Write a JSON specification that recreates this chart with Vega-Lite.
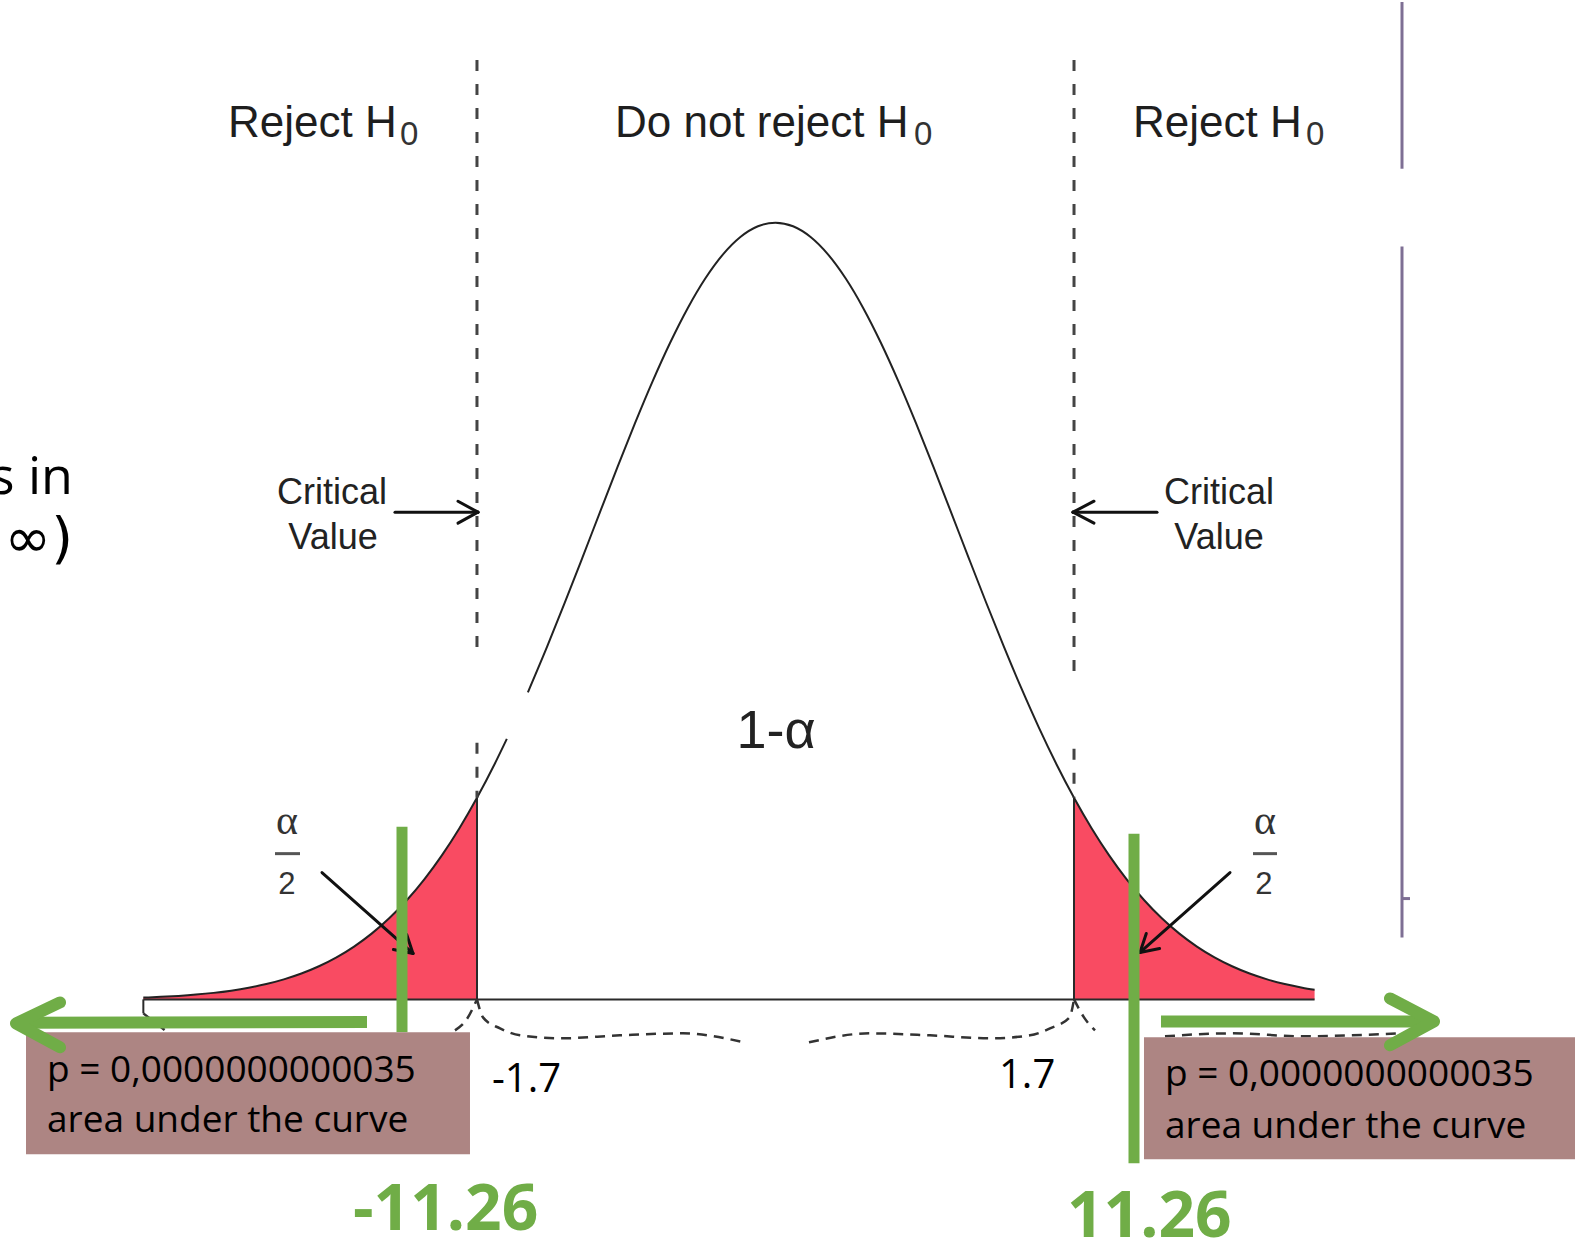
{
  "$schema": "https://vega.github.io/schema/vega-lite/v6.json",
  "width": 1575,
  "height": 1253,
  "padding": 0,
  "autosize": {"type": "fit", "contains": "padding"},
  "background": "white",
  "config": {"view": {"stroke": null}},
  "datasets": {
    "curve": [
      {"x": -3.6, "y": 0.00236, "s": "a"}, {"x": -3.5, "y": 0.00329, "s": "a"}, {"x": -3.4, "y": 0.00454, "s": "a"},
      {"x": -3.3, "y": 0.00621, "s": "a"}, {"x": -3.2, "y": 0.00841, "s": "a"}, {"x": -3.1, "y": 0.01128, "s": "a"},
      {"x": -3.0, "y": 0.01499, "s": "a"}, {"x": -2.9, "y": 0.01974, "s": "a"}, {"x": -2.8, "y": 0.02577, "s": "a"},
      {"x": -2.7, "y": 0.0333, "s": "a"}, {"x": -2.6, "y": 0.04265, "s": "a"}, {"x": -2.5, "y": 0.0541, "s": "a"},
      {"x": -2.4, "y": 0.06801, "s": "a"}, {"x": -2.3, "y": 0.08468, "s": "a"}, {"x": -2.2, "y": 0.10447, "s": "a"},
      {"x": -2.1, "y": 0.12769, "s": "a"}, {"x": -2.0, "y": 0.15462, "s": "a"}, {"x": -1.9, "y": 0.18549, "s": "a"},
      {"x": -1.8, "y": 0.22044, "s": "a"}, {"x": -1.7, "y": 0.25957, "s": "a"}, {"x": -1.6, "y": 0.30278, "s": "a"},
      {"x": -1.53, "y": 0.3354, "s": "a"},
      {"x": -1.41, "y": 0.3954, "s": "b"}, {"x": -1.3, "y": 0.45443, "s": "b"}, {"x": -1.2, "y": 0.51066, "s": "b"},
      {"x": -1.1, "y": 0.56852, "s": "b"}, {"x": -1.0, "y": 0.62706, "s": "b"}, {"x": -0.9, "y": 0.68521, "s": "b"},
      {"x": -0.8, "y": 0.74179, "s": "b"}, {"x": -0.7, "y": 0.79561, "s": "b"}, {"x": -0.6, "y": 0.84535, "s": "b"},
      {"x": -0.5, "y": 0.88988, "s": "b"}, {"x": -0.4, "y": 0.92805, "s": "b"}, {"x": -0.3, "y": 0.95887, "s": "b"},
      {"x": -0.2, "y": 0.9815, "s": "b"}, {"x": -0.1, "y": 0.99534, "s": "b"}, {"x": 0.0, "y": 1.0, "s": "b"},
      {"x": 0.1, "y": 0.99534, "s": "b"}, {"x": 0.2, "y": 0.9815, "s": "b"}, {"x": 0.3, "y": 0.95887, "s": "b"},
      {"x": 0.4, "y": 0.92805, "s": "b"}, {"x": 0.5, "y": 0.88988, "s": "b"}, {"x": 0.6, "y": 0.84535, "s": "b"},
      {"x": 0.7, "y": 0.79561, "s": "b"}, {"x": 0.8, "y": 0.74179, "s": "b"}, {"x": 0.9, "y": 0.68521, "s": "b"},
      {"x": 1.0, "y": 0.62706, "s": "b"}, {"x": 1.1, "y": 0.56852, "s": "b"}, {"x": 1.2, "y": 0.51066, "s": "b"},
      {"x": 1.3, "y": 0.45443, "s": "b"}, {"x": 1.4, "y": 0.40062, "s": "b"}, {"x": 1.5, "y": 0.34991, "s": "b"},
      {"x": 1.6, "y": 0.30278, "s": "b"}, {"x": 1.7, "y": 0.25957, "s": "b"}, {"x": 1.8, "y": 0.22044, "s": "b"},
      {"x": 1.9, "y": 0.18549, "s": "b"}, {"x": 2.0, "y": 0.15462, "s": "b"}, {"x": 2.1, "y": 0.12769, "s": "b"},
      {"x": 2.2, "y": 0.10447, "s": "b"}, {"x": 2.3, "y": 0.08468, "s": "b"}, {"x": 2.4, "y": 0.06801, "s": "b"},
      {"x": 2.5, "y": 0.0541, "s": "b"}, {"x": 2.6, "y": 0.04265, "s": "b"}, {"x": 2.7, "y": 0.0333, "s": "b"},
      {"x": 2.8, "y": 0.02577, "s": "b"}, {"x": 2.9, "y": 0.01974, "s": "b"}, {"x": 3.0, "y": 0.01499, "s": "b"},
      {"x": 3.07, "y": 0.01229, "s": "b"}
    ],
    "brace": [
      {"x": -1.7, "y": 0, "s": "m1"}, {"x": -1.6657, "y": -0.02314, "s": "m1"}, {"x": -1.5689, "y": -0.03728, "s": "m1"},
      {"x": -1.455, "y": -0.04627, "s": "m1"}, {"x": -1.2272, "y": -0.05013, "s": "m1"}, {"x": -0.8855, "y": -0.04627, "s": "m1"},
      {"x": -0.5268, "y": -0.0437, "s": "m1"}, {"x": -0.1794, "y": -0.05527, "s": "m1"},
      {"x": 0.1908, "y": -0.05527, "s": "m2"}, {"x": 0.5382, "y": -0.0437, "s": "m2"}, {"x": 0.8798, "y": -0.04627, "s": "m2"},
      {"x": 1.2215, "y": -0.05013, "s": "m2"}, {"x": 1.4493, "y": -0.04627, "s": "m2"}, {"x": 1.5632, "y": -0.03728, "s": "m2"},
      {"x": 1.6743, "y": -0.02314, "s": "m2"}, {"x": 1.7, "y": 0, "s": "m2"},
      {"x": -1.8252, "y": -0.03985, "s": "o1"}, {"x": -1.7625, "y": -0.02699, "s": "o1"}, {"x": -1.7, "y": 0, "s": "o1"},
      {"x": 1.7, "y": 0, "s": "o2"}, {"x": 1.7568, "y": -0.02314, "s": "o2"}, {"x": 1.8195, "y": -0.03985, "s": "o2"},
      {"x": -3.6, "y": -0.018, "s": "o3"}, {"x": -3.4767, "y": -0.03985, "s": "o3"},
      {"x": 2.2181, "y": -0.0475, "s": "o4"}, {"x": 2.6, "y": -0.0437, "s": "o4"}, {"x": 3.0, "y": -0.0475, "s": "o4"}, {"x": 3.5564, "y": -0.0437, "s": "o4"}
    ]
  },
  "encoding": {
    "x": {"field": "x", "type": "quantitative", "scale": {"domain": [-4.4163, 4.553], "nice": false, "zero": false}, "axis": null},
    "y": {"field": "y", "type": "quantitative", "scale": {"domain": [-0.32648, 1.28406], "nice": false, "zero": false}, "axis": null}
  },
  "layer": [
    {
      "data": {"name": "curve"},
      "transform": [{"filter": "datum.x <= -1.7 || datum.x >= 1.7"}],
      "mark": {"type": "area", "color": "#F94B62", "interpolate": "monotone"},
      "encoding": {"y2": {"datum": 0}, "detail": {"field": "s"}}
    },
    {
      "data": {"values": [
        {"x": -1.7, "y": 0, "x2": -1.7, "y2": 0.25957},
        {"x": 1.7, "y": 0, "x2": 1.7, "y2": 0.25957},
        {"x": -3.6, "y": 0, "x2": 3.07, "y2": 0},
        {"x": -3.6, "y": 0, "x2": -3.6, "y2": -0.018}
      ]},
      "mark": {"type": "rule", "color": "#2a2a2a", "strokeWidth": 2},
      "encoding": {"x2": {"field": "x2"}, "y2": {"field": "y2"}}
    },
    {
      "data": {"name": "curve"},
      "mark": {"type": "line", "color": "#222222", "strokeWidth": 2, "interpolate": "monotone"},
      "encoding": {"detail": {"field": "s"}}
    },
    {
      "data": {"values": [
        {"x": -1.7, "y": 1.20951, "x2": -1.7, "y2": 0.43959},
        {"x": -1.7, "y": 0.33033, "x2": -1.7, "y2": 0.25957},
        {"x": 1.7, "y": 1.20951, "x2": 1.7, "y2": 0.42288},
        {"x": 1.7, "y": 0.32262, "x2": 1.7, "y2": 0.25957}
      ]},
      "mark": {"type": "rule", "color": "#444444", "strokeWidth": 3, "strokeDash": [11, 13]},
      "encoding": {"x2": {"field": "x2"}, "y2": {"field": "y2"}}
    },
    {
      "data": {"name": "brace"},
      "mark": {"type": "line", "color": "#333333", "strokeWidth": 2.5, "strokeDash": [10, 7], "interpolate": "monotone"},
      "encoding": {"detail": {"field": "s"}}
    },
    {
      "data": {"values": [
        {"x": -2.1669, "y": 0.62725, "x2": -1.6942, "y2": 0.62725},
        {"x": -1.6942, "y": 0.62725, "x2": -1.8081, "y2": 0.64139},
        {"x": -1.6942, "y": 0.62725, "x2": -1.8081, "y2": 0.61311},
        {"x": 2.1726, "y": 0.62725, "x2": 1.6942, "y2": 0.62725},
        {"x": 1.6942, "y": 0.62725, "x2": 1.8138, "y2": 0.64139},
        {"x": 1.6942, "y": 0.62725, "x2": 1.8138, "y2": 0.61311},
        {"x": -2.5826, "y": 0.16324, "x2": -2.0644, "y2": 0.05913},
        {"x": -2.0644, "y": 0.05913, "x2": -2.1003, "y2": 0.08355},
        {"x": -2.0644, "y": 0.05913, "x2": -2.176, "y2": 0.06427},
        {"x": 2.5883, "y": 0.16324, "x2": 2.0757, "y2": 0.06041},
        {"x": 2.0757, "y": 0.06041, "x2": 2.1874, "y2": 0.06555},
        {"x": 2.0757, "y": 0.06041, "x2": 2.1116, "y2": 0.08483}
      ]},
      "mark": {"type": "rule", "color": "#111111", "strokeWidth": 3, "strokeCap": "round"},
      "encoding": {"x2": {"field": "x2"}, "y2": {"field": "y2"}}
    },
    {
      "data": {"values": [
        {"x": -2.8503, "y": 0.18766, "x2": -2.7079, "y2": 0.18766},
        {"x": 2.7192, "y": 0.18766, "x2": 2.8559, "y2": 0.18766}
      ]},
      "mark": {"type": "rule", "color": "#555555", "strokeWidth": 3},
      "encoding": {"x2": {"field": "x2"}, "y2": {"field": "y2"}}
    },
    {
      "data": {"values": [
        {"x": -3.1179, "y": 1.11054, "t": "Reject H"},
        {"x": -0.914, "y": 1.11054, "t": "Do not reject H"},
        {"x": 2.0359, "y": 1.11054, "t": "Reject H"}
      ]},
      "mark": {"type": "text", "font": "Liberation Sans", "fontSize": 44, "align": "left", "baseline": "alphabetic", "color": "#1e1e1e"},
      "encoding": {"text": {"field": "t"}}
    },
    {
      "data": {"values": [
        {"x": -2.1384, "y": 1.10026, "t": "0"},
        {"x": 0.7887, "y": 1.10026, "t": "0"},
        {"x": 3.021, "y": 1.10026, "t": "0"}
      ]},
      "mark": {"type": "text", "font": "Liberation Sans", "fontSize": 33, "align": "left", "baseline": "alphabetic", "color": "#333333"},
      "encoding": {"text": {"field": "t"}}
    },
    {
      "data": {"values": [
        {"x": -2.5256, "y": 0.63753, "t": "Critical"},
        {"x": -2.5199, "y": 0.57969, "t": "Value"},
        {"x": 2.5256, "y": 0.63753, "t": "Critical"},
        {"x": 2.5256, "y": 0.57969, "t": "Value"}
      ]},
      "mark": {"type": "text", "font": "Liberation Sans", "fontSize": 36, "align": "center", "baseline": "alphabetic", "color": "#222222"},
      "encoding": {"text": {"field": "t"}}
    },
    {
      "data": {"values": [{"x": 0.0028, "y": 0.32391, "t": "1-α"}]},
      "mark": {"type": "text", "font": "Liberation Sans", "fontSize": 54, "align": "center", "baseline": "alphabetic", "color": "#222222"},
      "encoding": {"text": {"field": "t"}}
    },
    {
      "data": {"values": [
        {"x": -2.7819, "y": 0.21337, "t": "α"},
        {"x": 2.7876, "y": 0.21337, "t": "α"}
      ]},
      "mark": {"type": "text", "font": "Liberation Serif", "fontSize": 42, "align": "center", "baseline": "alphabetic", "color": "#333333"},
      "encoding": {"text": {"field": "t"}}
    },
    {
      "data": {"values": [
        {"x": -2.7819, "y": 0.13625, "t": "2"},
        {"x": 2.7819, "y": 0.13625, "t": "2"}
      ]},
      "mark": {"type": "text", "font": "Liberation Sans", "fontSize": 31, "align": "center", "baseline": "alphabetic", "color": "#333333"},
      "encoding": {"text": {"field": "t"}}
    },
    {
      "data": {"values": [
        {"x": 3.5678, "y": 1.28406, "x2": 3.5678, "y2": 1.06941},
        {"x": 3.5678, "y": 0.96915, "x2": 3.5678, "y2": 0.07969},
        {"x": 3.5678, "y": 0.12982, "x2": 3.6133, "y2": 0.12982}
      ]},
      "mark": {"type": "rule", "color": "#7E6F94", "strokeWidth": 3},
      "encoding": {"x2": {"field": "x2"}, "y2": {"field": "y2"}}
    },
    {
      "data": {"values": [
        {"x": -2.127, "y": 0.22237, "x2": -2.127, "y2": -0.04242},
        {"x": 2.0416, "y": 0.21337, "x2": 2.0416, "y2": -0.2108}
      ]},
      "mark": {"type": "rule", "color": "#70AD47", "strokeWidth": 11},
      "encoding": {"x2": {"field": "x2"}, "y2": {"field": "y2"}}
    },
    {
      "data": {"values": [
        {"x": -4.2682, "y": -0.04242, "x2": -1.7398, "y2": -0.19923},
        {"x": 2.0985, "y": -0.04884, "x2": 4.553, "y2": -0.20566}
      ]},
      "mark": {"type": "rect", "color": "#AD8583", "clip": true},
      "encoding": {"x2": {"field": "x2"}, "y2": {"field": "y2"}}
    },
    {
      "data": {"values": [
        {"x": -4.1486, "y": -0.10668, "t": "p = 0,0000000000035"},
        {"x": -4.1486, "y": -0.17095, "t": "area under the curve"},
        {"x": 2.2181, "y": -0.11183, "t": "p = 0,0000000000035"},
        {"x": 2.2181, "y": -0.17866, "t": "area under the curve"}
      ]},
      "mark": {"type": "text", "font": "Open Sans", "fontSize": 37, "align": "left", "baseline": "alphabetic", "color": "#000000"},
      "encoding": {"text": {"field": "t"}}
    },
    {
      "data": {"values": [
        {"x": -1.6145, "y": -0.11954, "t": "-1.7"},
        {"x": 1.2728, "y": -0.1144, "t": "1.7"}
      ]},
      "mark": {"type": "text", "font": "Open Sans", "fontSize": 40, "align": "left", "baseline": "alphabetic", "color": "#000000"},
      "encoding": {"text": {"field": "t"}}
    },
    {
      "data": {"values": [
        {"x": -2.3263, "y": -0.029, "x2": -4.3, "y2": -0.03},
        {"x": 2.1953, "y": -0.0283, "x2": 3.73, "y2": -0.0283}
      ]},
      "mark": {"type": "rule", "color": "#70AD47", "strokeWidth": 12},
      "encoding": {"x2": {"field": "x2"}, "y2": {"field": "y2"}}
    },
    {
      "data": {"values": [
        {"x": -4.0746, "y": -0.00386, "s": "L", "o": 1},
        {"x": -4.3251, "y": -0.03085, "s": "L", "o": 2},
        {"x": -4.0746, "y": -0.0617, "s": "L", "o": 3},
        {"x": 3.4994, "y": 0.00129, "s": "R", "o": 1},
        {"x": 3.75, "y": -0.02828, "s": "R", "o": 2},
        {"x": 3.4994, "y": -0.05913, "s": "R", "o": 3}
      ]},
      "mark": {"type": "line", "color": "#70AD47", "strokeWidth": 12, "strokeCap": "round", "strokeJoin": "round"},
      "encoding": {"detail": {"field": "s"}, "order": {"field": "o"}}
    },
    {
      "data": {"values": [
        {"x": -2.406, "y": -0.29692, "t": "-11.26"},
        {"x": 1.66, "y": -0.30591, "t": "11.26"}
      ]},
      "mark": {"type": "text", "font": "Open Sans", "fontSize": 64, "fontWeight": "bold", "align": "left", "baseline": "alphabetic", "color": "#70AD47"},
      "encoding": {"text": {"field": "t"}}
    },
    {
      "data": {"values": [
        {"x": -4.0006, "y": 0.65039, "t": "values in"}
      ]},
      "mark": {"type": "text", "font": "Open Sans", "fontSize": 52, "align": "right", "baseline": "alphabetic", "color": "#000000", "clip": true},
      "encoding": {"text": {"field": "t"}}
    },
    {
      "data": {"values": [
        {"x": -4.0006, "y": 0.56941, "t": "(−∞, +∞)"}
      ]},
      "mark": {"type": "text", "font": "DejaVu Sans", "fontSize": 56, "align": "right", "baseline": "alphabetic", "color": "#000000", "clip": true},
      "encoding": {"text": {"field": "t"}}
    }
  ]
}
